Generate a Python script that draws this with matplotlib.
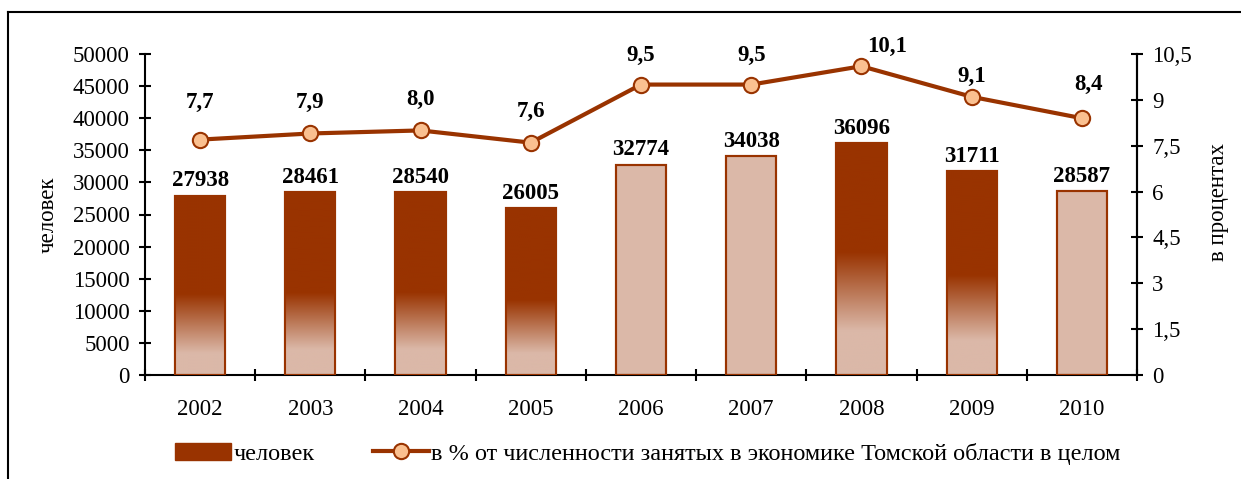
import matplotlib
matplotlib.use("Agg")
import matplotlib.pyplot as plt
import matplotlib.patches as mpatches
import matplotlib.lines as mlines
import numpy as np
from matplotlib.colors import to_rgb

# data
years = ["2002", "2003", "2004", "2005", "2006", "2007", "2008", "2009", "2010"]
persons = [27938, 28461, 28540, 26005, 32774, 34038, 36096, 31711, 28587]
percent = [7.7, 7.9, 8.0, 7.6, 9.5, 9.5, 10.1, 9.1, 8.4]
percent_labels = ["7,7", "7,9", "8,0", "7,6", "9,5", "9,5", "10,1", "9,1", "8,4"]

# style: gradient band per bar (fraction of height where dark ends / light starts)
grad_dark = [0.45, 0.45, 0.45, 0.45, None, None, 0.53, 0.49, None]
grad_light = [0.12, 0.14, 0.14, 0.13, None, None, 0.19, 0.17, None]
# label offsets in pixels for percent labels
lab_dx = [0, 0, 0, 0, 0, 0, 26, 0, 7]
lab_dy = [37, 31, 31, 31, 29, 29, 20, 20, 34]

DARK = "#993300"
LIGHT = "#DBB8A8"
MARK = "#FAC090"
FS = 16.5

plt.rcParams['font.family'] = ['Liberation Serif', 'DejaVu Serif']

fig = plt.figure(figsize=(12.41, 4.79), dpi=100)
ax = fig.add_axes([145 / 1241, 1 - 375 / 479, (1137 - 145) / 1241, (375 - 54) / 479])

x = np.arange(len(years))
width = 0.455
bars = ax.bar(x, persons, width=width, color=LIGHT, edgecolor=DARK, linewidth=1.5, zorder=2)

dark = np.array(to_rgb(DARK))
light = np.array(to_rgb(LIGHT))
for i, b in enumerate(bars):
    if grad_dark[i] is None:
        continue
    t = np.linspace(0, 1, 300)
    w = np.clip((t - grad_light[i]) / (grad_dark[i] - grad_light[i]), 0, 1)
    cols = light[None, :] * (1 - w[:, None]) + dark[None, :] * w[:, None]
    img = np.repeat(cols[:, None, :], 2, axis=1)
    im = ax.imshow(img, extent=(b.get_x(), b.get_x() + b.get_width(), 0, b.get_height()),
                   origin='lower', aspect='auto', zorder=2.5, interpolation='bilinear')
    im.set_clip_path(b)
# redraw edges on top
ax.bar(x, persons, width=width, fill=False, edgecolor=DARK, linewidth=1.5, zorder=3)

for xi, v in zip(x, persons):
    ax.annotate(str(v), (xi, v), xytext=(0, 3), textcoords='offset points',
                ha='center', va='bottom', fontsize=FS, fontweight='bold', zorder=4)

ax.set_xlim(-0.5, len(years) - 0.5)
ax.set_ylim(0, 50000)
ax.set_yticks(np.arange(0, 50001, 5000))
ax.set_xticks(x)
ax.set_xticklabels(years)
ax.set_xticks(np.arange(-0.5, len(years)), minor=True)
ax.tick_params(axis='x', which='major', length=0, pad=17, labelsize=FS)
ax.tick_params(axis='x', which='minor', direction='inout', length=8, width=1.5)
ax.tick_params(axis='y', direction='inout', length=8, width=1.5, pad=7, labelsize=FS)
ax.set_ylabel("человек", fontsize=FS, labelpad=10)

for s in ['left', 'bottom', 'right']:
    ax.spines[s].set_linewidth(1.5)
ax.spines['top'].set_visible(False)

ax2 = ax.twinx()
ax2.plot(x, percent, color=DARK, linewidth=3, marker='o', markersize=11,
         markerfacecolor=MARK, markeredgecolor=DARK, markeredgewidth=1.5, zorder=5)
ax2.set_ylim(0, 10.5)
ticks2 = np.arange(0, 10.51, 1.5)
ax2.set_yticks(ticks2)
ax2.set_yticklabels([("%g" % t).replace(".", ",") for t in ticks2])
ax2.tick_params(axis='y', direction='inout', length=8, width=1.5, pad=7, labelsize=FS)
ax2.set_ylabel("в процентах", fontsize=FS)
ax2.yaxis.set_label_coords((1208 - 145) / (1137 - 145), (375 - 202) / 321)
ax2.spines['right'].set_linewidth(1.5)
ax2.spines['top'].set_visible(False)
ax2.spines['left'].set_visible(False)
ax2.spines['bottom'].set_visible(False)

for xi, v, lab, dx, dy in zip(x, percent, percent_labels, lab_dx, lab_dy):
    ax2.annotate(lab, (xi, v), xytext=(dx * 0.72, dy * 0.72), textcoords='offset points',
                 ha='center', va='center', fontsize=FS, fontweight='bold')

# legend
h_bar = mpatches.Patch(facecolor=DARK, edgecolor=DARK, label='человек')
h_line = mlines.Line2D([], [], color=DARK, linewidth=3, marker='o', markersize=11,
                       markerfacecolor=MARK, markeredgecolor=DARK, markeredgewidth=1.5,
                       label='в % от численности занятых в экономике Томской области в целом')
ax.legend(handles=[h_bar, h_line], loc='center', bbox_to_anchor=(0.507, -0.245), ncol=2,
          frameon=False, fontsize=17.5, handlelength=2.3, handleheight=0.7,
          handletextpad=0.1, columnspacing=2.4)

# outer frame
fig.add_artist(mlines.Line2D([8 / 1241, 1.0], [1 - 12 / 479, 1 - 12 / 479],
                             color='black', linewidth=1.5, transform=fig.transFigure))
fig.add_artist(mlines.Line2D([8 / 1241, 8 / 1241], [0, 1 - 12 / 479],
                             color='black', linewidth=1.5, transform=fig.transFigure))

fig.savefig("out.png", dpi=100)
